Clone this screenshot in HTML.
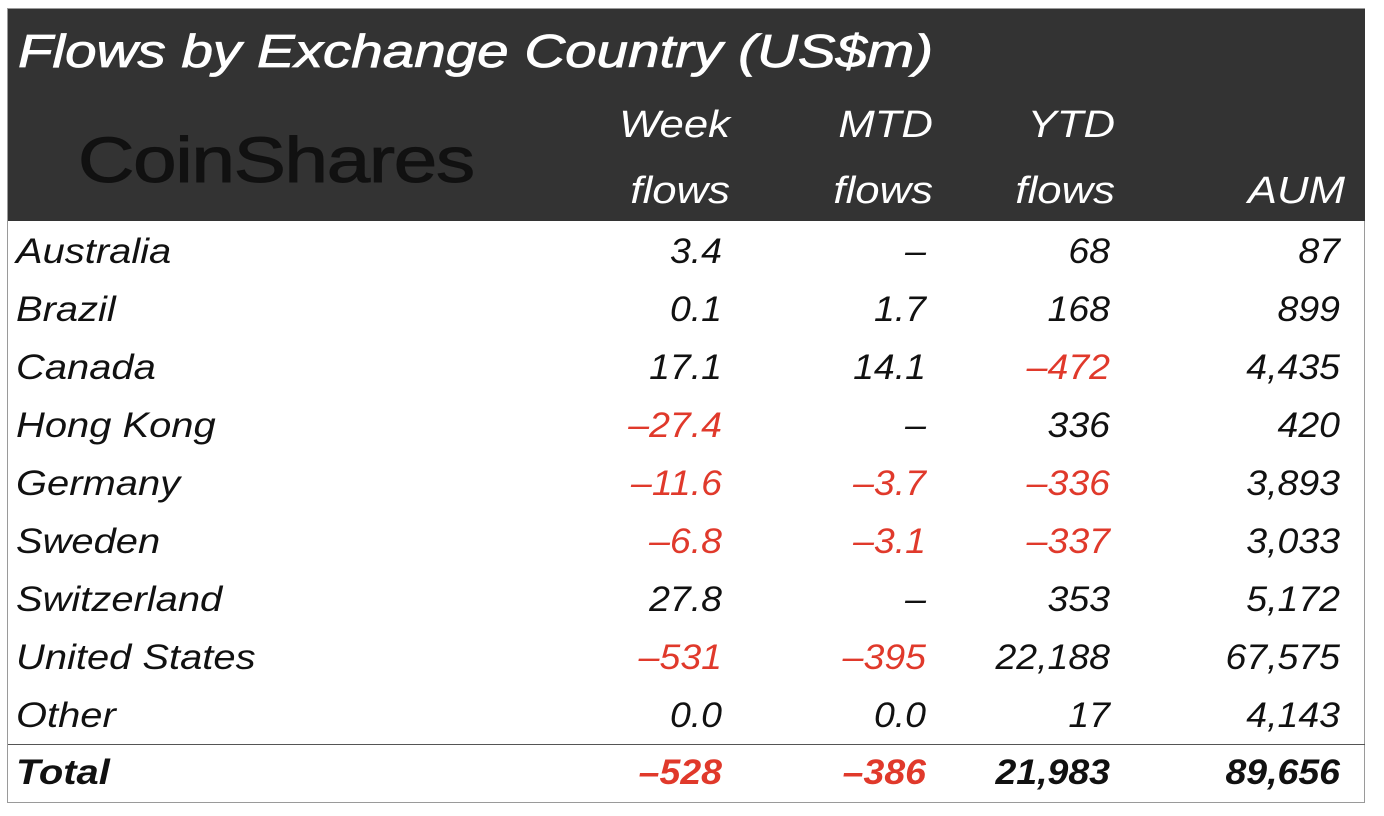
<!DOCTYPE html>
<html><head><meta charset="utf-8"><style>
body{margin:0;width:1384px;height:816px;background:#fff;position:relative;overflow:hidden;font-family:"Liberation Sans",sans-serif;}
.frame{position:absolute;left:7px;top:8px;width:1358px;height:795px;border:1px solid #9a9a9a;box-sizing:border-box;}
.hdr{position:absolute;left:8px;top:9px;width:1357px;height:212px;background:#333333;}
.t{position:absolute;font-style:italic;white-space:nowrap;line-height:1;}
.title{left:18px;top:28px;font-size:46px;color:#fff;transform:scaleX(1.23);transform-origin:left;-webkit-text-stroke:0.8px #fff;}
.logo{position:absolute;left:78px;top:128px;font-size:64px;color:#111;letter-spacing:-1px;line-height:1;transform:scaleX(1.22);transform-origin:left;-webkit-text-stroke:1px #111;}
.h{color:#fff;font-size:38px;text-align:right;width:200px;transform:scaleX(1.15);transform-origin:right;}
.c{font-size:35px;color:#111;}
.lbl{transform:scaleX(1.14);transform-origin:left;}
.r{text-align:right;width:200px;transform:scaleX(1.07);transform-origin:right;}
.neg{color:#e0392b;}
.tot{font-weight:bold;}
.line{position:absolute;left:8px;top:744px;width:1357px;height:1px;background:#555;}
</style></head><body>
<div class="frame"></div>
<div class="hdr"></div>
<div class="t title">Flows by Exchange Country (US$m)</div>
<div class="logo">CoinShares</div>
<div class="t h" style="left:530px;top:106px">Week</div>
<div class="t h" style="left:530px;top:172px">flows</div>
<div class="t h" style="left:733px;top:106px">MTD</div>
<div class="t h" style="left:733px;top:172px">flows</div>
<div class="t h" style="left:915px;top:106px">YTD</div>
<div class="t h" style="left:915px;top:172px">flows</div>
<div class="t h" style="left:1145px;top:172px">AUM</div>
<div class="line"></div>
<div id="rows"></div>
<script>
const countries=["Australia","Brazil","Canada","Hong Kong","Germany","Sweden","Switzerland","United States","Other","Total"];
const week=["3.4","0.1","17.1","-27.4","-11.6","-6.8","27.8","-531","0.0","-528"];
const mtd=["-","1.7","14.1","-","-3.7","-3.1","-","-395","0.0","-386"];
const ytd=["68","168","-472","336","-336","-337","353","22,188","17","21,983"];
const aum=["87","899","4,435","420","3,893","3,033","5,172","67,575","4,143","89,656"];
const cols=[[week,522,"week"],[mtd,726,"mtd"],[ytd,910,"ytd"],[aum,1140,"aum"]];
const root=document.getElementById('rows');
countries.forEach((c,i)=>{
  const top=(i<9?234+i*58:755);
  const tot=i===9;
  const d=document.createElement('div');
  d.className='t c lbl'+(tot?' tot':'');
  d.style.left='16px';d.style.top=top+'px';
  d.textContent=c;
  
  
  root.appendChild(d);
  cols.forEach(([arr,x,n])=>{
    const v=arr[i];
    const e=document.createElement('div');
    const neg=v.startsWith('-')&&v.length>1;
    e.className='t c r'+(neg?' neg':'')+(tot?' tot':'');
    e.style.left=x+'px';e.style.top=top+'px';
    e.textContent=neg?'\u2013'+v.slice(1):(v==='-'?'\u2013':v);
    
    
    root.appendChild(e);
  });
});
</script>
</body></html>
